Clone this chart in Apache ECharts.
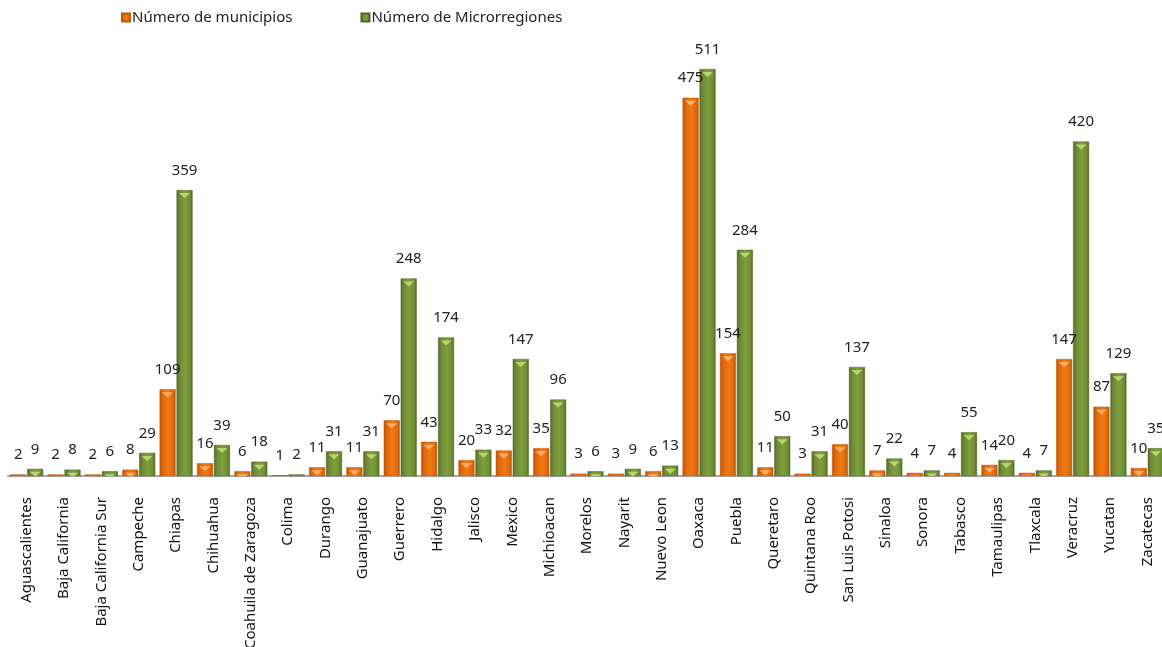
<!DOCTYPE html>
<html>
<head>
<meta charset="utf-8">
<script src="https://cdn.jsdelivr.net/npm/echarts@6/dist/echarts.min.js"></script>
<style>
  html, body { margin: 0; padding: 0; background: #ffffff; }
  #chart { width: 1162px; height: 647px; }
</style>
</head>
<body>
<div id="chart"></div>
<script>
// Municipalities and micro-regions per Mexican state
const estados = [
  'Aguascalientes', 'Baja California', 'Baja California Sur', 'Campeche', 'Chiapas',
  'Chihuahua', 'Coahuila de Zaragoza', 'Colima', 'Durango', 'Guanajuato',
  'Guerrero', 'Hidalgo', 'Jalisco', 'Mexico', 'Michioacan', 'Morelos', 'Nayarit',
  'Nuevo Leon', 'Oaxaca', 'Puebla', 'Queretaro', 'Quintana Roo', 'San Luis Potosi',
  'Sinaloa', 'Sonora', 'Tabasco', 'Tamaulipas', 'Tlaxcala', 'Veracruz', 'Yucatan', 'Zacatecas'
];
const municipios = [2, 2, 2, 8, 109, 16, 6, 1, 11, 11, 70, 43, 20, 32, 35, 3, 3, 6, 475, 154, 11, 3, 40, 7, 4, 4, 14, 4, 147, 87, 10];
const microrregiones = [9, 8, 6, 29, 359, 39, 18, 2, 31, 31, 248, 174, 33, 147, 96, 6, 9, 13, 511, 284, 50, 31, 137, 22, 7, 55, 20, 7, 420, 129, 35];

const nombreMunicipios = 'Número de municipios';
const nombreMicro = 'Número de Microrregiones';

const FONT = 'Noto Sans';
const BAR_W = 16;
const BAR_GAP = '6%';

function bevel(edge, mid, center) {
  return new echarts.graphic.LinearGradient(0, 0, 1, 0, [
    { offset: 0, color: edge },
    { offset: 0.2, color: mid },
    { offset: 0.55, color: center },
    { offset: 0.85, color: mid },
    { offset: 1, color: edge }
  ]);
}

const chart = echarts.init(document.getElementById('chart'));

const labelStyle = {
  show: true,
  position: 'top',
  distance: 12,
  color: '#222',
  fontFamily: FONT,
  fontSize: 15
};

function bevelTop(values, color) {
  return {
    type: 'pictorialBar',
    data: values,
    barWidth: BAR_W,
    barGap: BAR_GAP,
    symbol: 'path://M0,0 L12,0 L6,6 Z',
    symbolSize: [11, 5],
    symbolPosition: 'end',
    symbolOffset: [0, '60%'],
    symbolClip: true,
    itemStyle: { color: color },
    legendHoverLink: false,
    silent: true,
    z: 3
  };
}

chart.setOption({
  animation: false,
  backgroundColor: '#ffffff',
  legend: {
    top: 5,
    left: 116,
    itemWidth: 8,
    itemHeight: 8,
    itemGap: 68,
    icon: 'rect',
    textStyle: { fontFamily: FONT, fontSize: 15, color: '#222', padding: [0, 0, 0, -3] },
    data: [nombreMunicipios, nombreMicro]
  },
  grid: {
    left: 8, top: 30, width: 1158, height: 446,
    containLabel: false,
    outerBoundsMode: 'none'
  },
  xAxis: {
    type: 'category',
    data: estados,
    axisLine: { lineStyle: { color: '#a6a6a6', width: 2 } },
    axisTick: { show: false },
    axisLabel: {
      interval: 0,
      rotate: 90,
      margin: 21,
      color: '#111',
      fontFamily: FONT,
      fontSize: 15
    }
  },
  yAxis: {
    type: 'value',
    min: 0,
    max: 560,
    show: false,
    splitLine: { show: false }
  },
  series: [
    {
      name: nombreMunicipios,
      type: 'bar',
      data: municipios,
      barWidth: BAR_W,
      barGap: BAR_GAP,
      itemStyle: {
        color: bevel('#b95306', '#e0680a', '#f07a16'),
        borderColor: '#c35a07',
        borderWidth: 0.5
      },
      label: labelStyle,
      z: 2
    },
    {
      name: nombreMicro,
      type: 'bar',
      data: microrregiones,
      barWidth: BAR_W,
      barGap: BAR_GAP,
      itemStyle: {
        color: bevel('#536a26', '#6f8c34', '#7f9f3e'),
        borderColor: '#4f6524',
        borderWidth: 0.5
      },
      label: labelStyle,
      z: 2
    },
    // light bevels at the top of each bar
    Object.assign(bevelTop(municipios, '#fbb06a'), { name: nombreMunicipios + ' tope' }),
    Object.assign(bevelTop(microrregiones, '#b6d66e'), { name: nombreMicro + ' tope' })
  ]
});
</script>
</body>
</html>
